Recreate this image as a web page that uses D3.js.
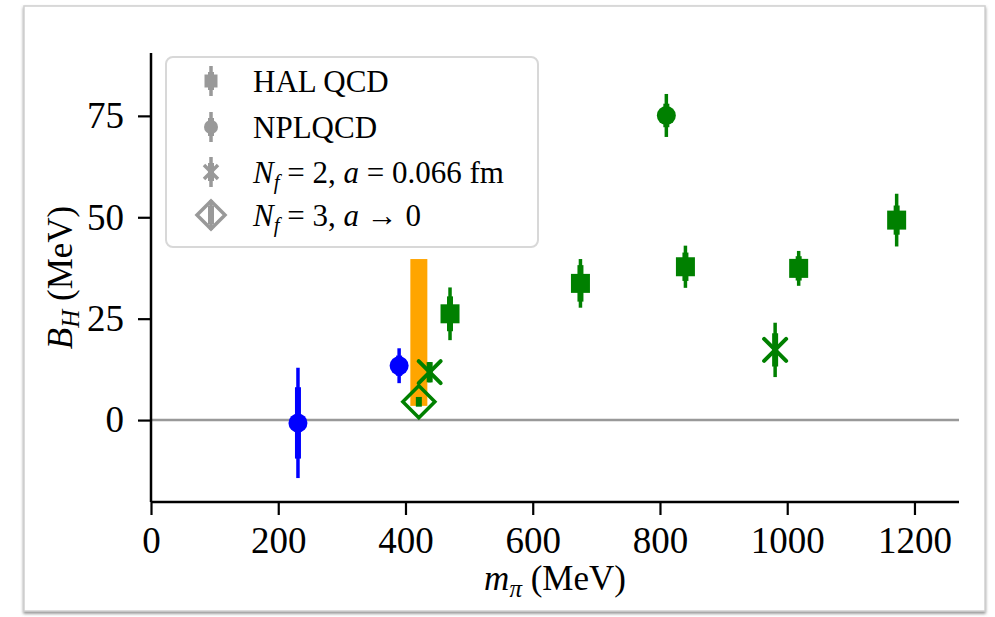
<!DOCTYPE html>
<html>
<head>
    <meta charset="utf-8">
    <title>B_H vs m_pi</title>
    <script src="https://d3js.org/d3.v7.min.js"></script>
    <style>
        body { margin: 0; background: white; }
        text { font-family: "Liberation Serif", "DejaVu Serif", serif; }
    </style>
</head>
<body>
    <div id="my_dataviz"></div>
    <script>
        // HAL QCD (squares)
        var halMpi = [470, 675, 840, 1018, 1172];
        var halB = [26.2, 33.7, 37.8, 37.4, 49.3];
        var halStat = [4.3, 4.5, 3.5, 3.0, 3.6];
        var halSys = [6.5, 6.0, 5.2, 4.3, 6.5];
        var halGroup = ["Nf=3", "Nf=3", "Nf=3", "Nf=3", "Nf=3"];

        // NPLQCD (circles)
        var nplMpi = [231, 390, 810];
        var nplB = [-0.7, 13.4, 75.1];
        var nplStat = [8.8, 2.5, 2.9];
        var nplSys = [13.6, 4.3, 5.3];
        var nplGroup = ["Nf=2+1", "Nf=2+1", "Nf=3"];

        // Nf = 2, a = 0.066 fm (crosses)
        var nf2Mpi = [438, 981];
        var nf2B = [11.8, 17.3];
        var nf2Stat = [2.5, 4.1];
        var nf2Sys = [2.5, 6.7];
        var nf2Group = ["Nf=2", "Nf=2"];

        // Nf = 3, a -> 0 (diamond) and orange range
        var contMpi = [421];
        var contB = [4.5];
        var contErr = [1.2];
        var bandMpi = [421];
        var bandLow = [3.5];
        var bandHigh = [39.7];

        var xTicks = [0, 200, 400, 600, 800, 1000, 1200];
        var yTicks = [0, 25, 50, 75];

        var W = 995, H = 617;
        var margin = {top: 53, right: 35, bottom: 115, left: 151};

        var svg = d3.select("#my_dataviz")
            .append("svg")
                .attr("width", W)
                .attr("height", H);

        // card frame with shadow
        var defs = svg.append("defs");
        var shadow = defs.append("filter")
            .attr("id", "shadow")
            .attr("x", "-5%").attr("y", "-5%")
            .attr("width", "110%").attr("height", "110%");
        shadow.append("feDropShadow")
            .attr("dx", 0).attr("dy", 2)
            .attr("stdDeviation", 1.8)
            .attr("flood-color", "#777")
            .attr("flood-opacity", 0.8);
        svg.append("rect")
            .attr("x", 24).attr("y", 6)
            .attr("width", 961).attr("height", 605)
            .attr("fill", "white")
            .attr("stroke", "#d0d0d0")
            .attr("stroke-width", 1.5)
            .attr("filter", "url(#shadow)");

        var x = d3.scaleLinear()
            .domain([0, 1270])
            .range([margin.left, W - margin.right - 1]);
        var y = d3.scaleLinear()
            .domain([-20.2, 90.5])
            .range([H - margin.bottom, margin.top]);

        var color = d3.scaleOrdinal()
            .domain(["Nf=2+1", "Nf=3", "Nf=2"])
            .range(["#0000ff", "#008000", "#008000"]);

        // zero line
        svg.append("line")
            .attr("x1", x(0)).attr("x2", x(1270))
            .attr("y1", y(0)).attr("y2", y(0))
            .attr("stroke", "#999")
            .attr("stroke-width", 2.5);

        // axes
        var xAxis = svg.append("g")
            .attr("transform", "translate(0," + y.range()[0] + ")")
            .call(d3.axisBottom(x).tickValues(xTicks).tickFormat(d3.format("d")).tickSize(13).tickPadding(12));
        var yAxis = svg.append("g")
            .attr("transform", "translate(" + x.range()[0] + ",0)")
            .call(d3.axisLeft(y).tickValues(yTicks).tickFormat(d3.format("d")).tickSize(13).tickPadding(14));
        [xAxis, yAxis].forEach(function(g) {
            g.select(".domain").attr("stroke", "black").attr("stroke-width", 2.5);
            g.selectAll(".tick line").attr("stroke", "black").attr("stroke-width", 2.2);
            g.selectAll(".tick text")
                .attr("fill", "black")
                .style("font-family", "Liberation Serif, serif")
                .style("font-size", "37px");
        });
        // plain spines without outer tick caps
        xAxis.select(".domain").attr("d", "M" + x.range()[0] + ",0H" + x.range()[1]);
        yAxis.select(".domain").attr("d", "M0," + y.range()[0] + "V" + y.range()[1]);

        // axis labels
        var xl = svg.append("text")
            .attr("x", (x.range()[0] + x.range()[1]) / 2)
            .attr("y", 590)
            .attr("text-anchor", "middle")
            .style("font-size", "35px");
        xl.append("tspan").style("font-style", "italic").text("m");
        xl.append("tspan").style("font-style", "italic").style("font-size", "25px").attr("dy", 7).text("π");
        xl.append("tspan").attr("dy", -7).text(" (MeV)");

        var yl = svg.append("text")
            .attr("transform", "translate(72," + ((y.range()[0] + y.range()[1]) / 2) + ") rotate(-90)")
            .attr("text-anchor", "middle")
            .style("font-size", "35px");
        yl.append("tspan").style("font-style", "italic").text("B");
        yl.append("tspan").style("font-style", "italic").style("font-size", "25px").attr("dy", 7).text("H");
        yl.append("tspan").attr("dy", -7).text(" (MeV)");

        // orange range
        svg.selectAll(".band")
            .data(bandMpi)
            .enter()
            .append("rect")
                .attr("class", "band")
                .attr("x", function(d) { return x(d) - 8.5; })
                .attr("width", 17)
                .attr("y", function(d, i) { return y(bandHigh[i]); })
                .attr("height", function(d, i) { return y(bandLow[i]) - y(bandHigh[i]); })
                .attr("fill", "#ffa500");

        function errorbars(mpi, b, stat, sys, group) {
            mpi.forEach(function(m, i) {
                var c = color(group[i]);
                svg.append("line")
                    .attr("x1", x(m)).attr("x2", x(m))
                    .attr("y1", y(b[i] - sys[i])).attr("y2", y(b[i] + sys[i]))
                    .attr("stroke", c).attr("stroke-width", 3.5);
                svg.append("line")
                    .attr("x1", x(m)).attr("x2", x(m))
                    .attr("y1", y(b[i] - stat[i])).attr("y2", y(b[i] + stat[i]))
                    .attr("stroke", c).attr("stroke-width", 6);
            });
        }

        // HAL QCD
        errorbars(halMpi, halB, halStat, halSys, halGroup);
        svg.selectAll(".hal")
            .data(halMpi)
            .enter()
            .append("rect")
                .attr("x", function(d) { return x(d) - 9.5; })
                .attr("y", function(d, i) { return y(halB[i]) - 9.5; })
                .attr("width", 19).attr("height", 19)
                .attr("fill", function(d, i) { return color(halGroup[i]); });

        // NPLQCD
        errorbars(nplMpi, nplB, nplStat, nplSys, nplGroup);
        svg.selectAll(".npl")
            .data(nplMpi)
            .enter()
            .append("circle")
                .attr("cx", function(d) { return x(d); })
                .attr("cy", function(d, i) { return y(nplB[i]); })
                .attr("r", 9.5)
                .attr("fill", function(d, i) { return color(nplGroup[i]); });

        // Nf = 2 crosses
        errorbars(nf2Mpi, nf2B, nf2Stat, nf2Sys, nf2Group);
        nf2Mpi.forEach(function(m, i) {
            var cx = x(m), cy = y(nf2B[i]), s = 11;
            svg.append("path")
                .attr("d", "M" + (cx - s) + "," + (cy - s) + "L" + (cx + s) + "," + (cy + s) +
                           "M" + (cx - s) + "," + (cy + s) + "L" + (cx + s) + "," + (cy - s))
                .attr("stroke", color(nf2Group[i]))
                .attr("stroke-width", 4)
                .attr("stroke-linecap", "round");
        });

        // Nf = 3 continuum diamond
        contMpi.forEach(function(m, i) {
            var cx = x(m), cy = y(contB[i]), s = 16;
            svg.append("line")
                .attr("x1", cx).attr("x2", cx)
                .attr("y1", y(contB[i] - contErr[i])).attr("y2", y(contB[i] + contErr[i]))
                .attr("stroke", "#008000").attr("stroke-width", 6);
            svg.append("path")
                .attr("d", "M" + cx + "," + (cy - s) + "L" + (cx + s) + "," + cy +
                           "L" + cx + "," + (cy + s) + "L" + (cx - s) + "," + cy + "Z")
                .attr("fill", "none")
                .attr("stroke", "#008000")
                .attr("stroke-width", 3.5);
        });

        // legend
        var legendLabels = ["HAL QCD", "NPLQCD", "nf2", "nf3"];
        var lg = svg.append("g");
        lg.append("rect")
            .attr("x", 166).attr("y", 57)
            .attr("width", 372).attr("height", 190)
            .attr("rx", 7)
            .attr("fill", "white")
            .attr("stroke", "#d8d8d8")
            .attr("stroke-width", 2);
        var rowY = [81, 127, 172, 215];
        var gray = "#999";
        var mx = 211;
        legendLabels.forEach(function(lab, i) {
            var cy = rowY[i];
            lg.append("line")
                .attr("x1", mx).attr("x2", mx)
                .attr("y1", cy - 15).attr("y2", cy + 15)
                .attr("stroke", gray).attr("stroke-width", 3.5);
            lg.append("line")
                .attr("x1", mx).attr("x2", mx)
                .attr("y1", cy - 9).attr("y2", cy + 9)
                .attr("stroke", gray).attr("stroke-width", 6);
            if (i === 0) {
                lg.append("rect").attr("x", mx - 6.5).attr("y", cy - 6.5)
                    .attr("width", 13).attr("height", 13).attr("fill", gray);
            } else if (i === 1) {
                lg.append("circle").attr("cx", mx).attr("cy", cy).attr("r", 7).attr("fill", gray);
            } else if (i === 2) {
                lg.append("path")
                    .attr("d", "M" + (mx - 7) + "," + (cy - 7) + "L" + (mx + 7) + "," + (cy + 7) +
                               "M" + (mx - 7) + "," + (cy + 7) + "L" + (mx + 7) + "," + (cy - 7))
                    .attr("stroke", gray).attr("stroke-width", 3.5);
            } else {
                lg.append("path")
                    .attr("d", "M" + mx + "," + (cy - 14) + "L" + (mx + 14) + "," + cy +
                               "L" + mx + "," + (cy + 14) + "L" + (mx - 14) + "," + cy + "Z")
                    .attr("fill", "none").attr("stroke", gray).attr("stroke-width", 3.5);
            }
            var t = lg.append("text")
                .attr("x", 253).attr("y", cy)
                .attr("dy", "0.35em")
                .style("font-size", "31px");
            if (i < 2) {
                t.text(lab);
            } else {
                t.append("tspan").style("font-style", "italic").text("N");
                t.append("tspan").style("font-style", "italic").style("font-size", "21px").attr("dy", 6).text("f");
                if (i === 2) {
                    t.append("tspan").attr("dy", -6).text(" = 2, ");
                    t.append("tspan").style("font-style", "italic").text("a");
                    t.append("tspan").text(" = 0.066 fm");
                } else {
                    t.append("tspan").attr("dy", -6).text(" = 3, ");
                    t.append("tspan").style("font-style", "italic").text("a");
                    t.append("tspan").text(" → 0");
                }
            }
        });
    </script>
</body>
</html>
